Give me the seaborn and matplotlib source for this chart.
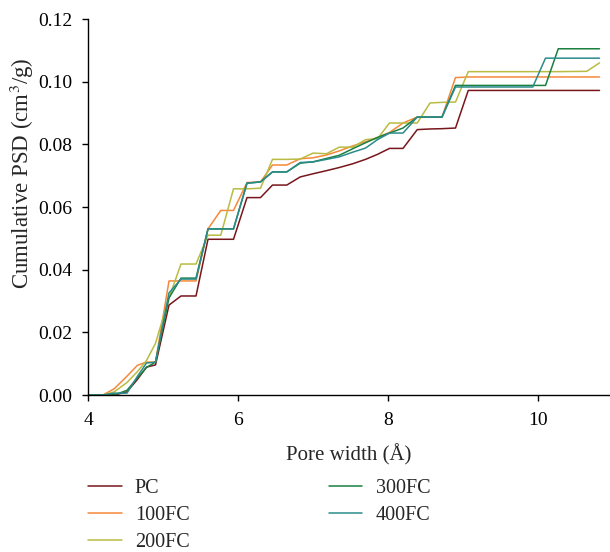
import numpy as np
import pandas as pd
import seaborn as sns
import matplotlib.pyplot as plt

# pore width grid (Angstrom)
width = [4.0, 4.2, 4.35, 4.52, 4.66, 4.78, 4.9, 5.08, 5.24, 5.44, 5.6, 5.77,
         5.94, 6.12, 6.3, 6.46, 6.65, 6.83, 7.0, 7.18, 7.35, 7.53, 7.7, 7.86,
         8.02, 8.2, 8.39, 8.56, 8.72, 8.9, 9.07, 9.93, 10.1, 10.27, 10.65, 10.82]

psd_pc = [0, 0, 0, 0.001, 0.005, 0.0089, 0.0096, 0.0287, 0.0316, 0.0316, 0.0497, 0.0497,
          0.0497, 0.063, 0.063, 0.067, 0.067, 0.0696, 0.0706, 0.0716, 0.0726, 0.0738, 0.0752, 0.0768,
          0.0787, 0.0787, 0.0847, 0.0849, 0.085, 0.0852, 0.0972, 0.0972, 0.0972, 0.0972, 0.0972, 0.0972]
psd_100 = [0, 0, 0.002, 0.006, 0.0095, 0.0105, 0.0105, 0.0364, 0.0364, 0.0364, 0.053, 0.0589,
           0.0589, 0.0678, 0.068, 0.0734, 0.0734, 0.0754, 0.0757, 0.0766, 0.0779, 0.0795, 0.0808, 0.0822,
           0.0838, 0.0868, 0.0887, 0.0887, 0.0887, 0.1013, 0.1015, 0.1015, 0.1015, 0.1015, 0.1015, 0.1015]
psd_200 = [0, 0, 0.001, 0.004, 0.0075, 0.011, 0.0165, 0.031, 0.0418, 0.0418, 0.051, 0.051,
           0.0658, 0.0658, 0.066, 0.0752, 0.0752, 0.0753, 0.0772, 0.077, 0.0791, 0.0791, 0.0815, 0.0818,
           0.0868, 0.0868, 0.0868, 0.0932, 0.0934, 0.0935, 0.1032, 0.1032, 0.1032, 0.1032, 0.1033, 0.106]
psd_300 = [0, 0, 0, 0.0015, 0.0055, 0.0088, 0.0105, 0.031, 0.0373, 0.0373, 0.053, 0.053,
           0.053, 0.0676, 0.068, 0.0712, 0.0712, 0.074, 0.0744, 0.0755, 0.0765, 0.0786, 0.0805, 0.0822,
           0.0836, 0.0852, 0.0887, 0.0887, 0.0887, 0.0988, 0.0988, 0.0988, 0.0988, 0.1105, 0.1105, 0.1105]
psd_400 = [0, 0, 0.0006, 0.0006, 0.006, 0.0102, 0.0105, 0.0326, 0.037, 0.037, 0.053, 0.053,
           0.053, 0.0676, 0.068, 0.0712, 0.0712, 0.0742, 0.0744, 0.0752, 0.076, 0.0775, 0.0788, 0.0815,
           0.0836, 0.0836, 0.0887, 0.0887, 0.0887, 0.0983, 0.0983, 0.0983, 0.1075, 0.1075, 0.1075, 0.1075]

samples = ["PC", "100FC", "200FC", "300FC", "400FC"]
colors = ["#78161b", "#f5883a", "#b9bb42", "#1a8040", "#2b8b8c"]

df = pd.concat([pd.DataFrame({"width": width, "psd": v, "sample": s})
                for s, v in zip(samples, [psd_pc, psd_100, psd_200, psd_300, psd_400])])

sns.set_style("ticks")
plt.rcParams['font.family'] = ['Liberation Serif', 'DejaVu Serif']
plt.rcParams['mathtext.fontset'] = 'stix'

fig = plt.figure(figsize=(6.1, 5.52), dpi=100)
ax = fig.add_axes([88/610, 1-395/552, 1-88/610, (395-19)/552])
sns.lineplot(data=df, x="width", y="psd", hue="sample", hue_order=samples,
             palette=dict(zip(samples, colors)), estimator=None, linewidth=1.1, ax=ax)

ax.set_xlim(4, 10.96)
ax.set_ylim(0, 0.12)
ax.set_xticks([4, 6, 8, 10])
ax.set_yticks(np.arange(0, 0.121, 0.02))
ax.yaxis.set_major_formatter(plt.FormatStrFormatter('%.2f'))
ax.tick_params(labelsize=14, length=4.5, width=1, color='k', labelcolor='k')
ax.tick_params(axis='y', pad=7)
ax.tick_params(axis='x', pad=8)
for side in ["left", "bottom"]:
    ax.spines[side].set_color('k')
    ax.spines[side].set_linewidth(1)
sns.despine(ax=ax)
ax.set_xlabel("Pore width (Å)", fontsize=15)
ax.set_ylabel("Cumulative PSD (cm$^3$/g)", fontsize=16.5)
ax.xaxis.set_label_coords(0.5, -(455-395)/376, transform=ax.transAxes)
ax.yaxis.set_label_coords((22-88)/522, (395-173)/376, transform=ax.transAxes)
ax.xaxis.label.set_va("center")
ax.yaxis.label.set_va("center")

handles, labels = ax.get_legend_handles_labels()
ax.get_legend().remove()
fig.legend(handles, labels, loc="upper left", bbox_to_anchor=(88/610, 1-479/552),
           ncol=2, frameon=False, fontsize=14.5, handlelength=1.68, handletextpad=0.65,
           columnspacing=6.9, labelspacing=0.4, borderaxespad=0, borderpad=0)

fig.savefig("out.png", dpi=100)
